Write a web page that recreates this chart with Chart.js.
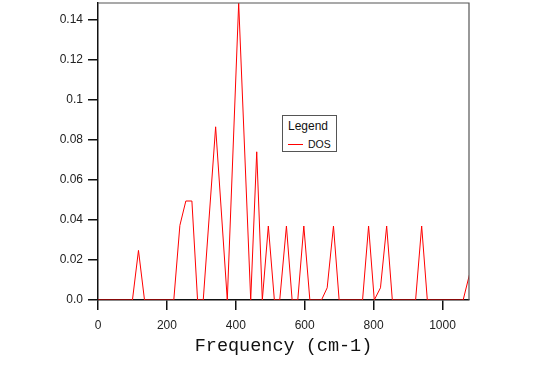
<!DOCTYPE html>
<html>
<head>
<meta charset="utf-8">
<script src="https://cdn.jsdelivr.net/npm/chart.js@4"></script>
<style>
  html, body { margin: 0; padding: 0; background: #fff; }
  #wrap { position: relative; width: 555px; height: 371px; }
  #legend-box {
    position: absolute; left: 282px; top: 115px; width: 53px; height: 35px;
    border: 1px solid #555; background: #fff;
    font-family: "Liberation Sans", Arial, sans-serif; color: #111;
  }
  #legend-box .ttl { position: absolute; left: 5px; top: 3px; font-size: 12px; }
  #legend-box .swatch { position: absolute; left: 5px; top: 28px; width: 15px; height: 0; border-top: 1px solid #ff0000; }
  #legend-box .lbl { position: absolute; left: 25px; top: 22px; font-size: 10.5px; line-height: 12px; }
</style>
</head>
<body>
<div id="wrap">
  <canvas id="dos-chart"></canvas>
  <div id="legend-box">
    <div class="ttl">Legend</div>
    <div class="swatch"></div>
    <div class="lbl">DOS</div>
  </div>
</div>
<script>
const freq = [0, 100, 117.5, 135, 220, 237.7, 255, 272.6, 289, 305.5, 341.5, 375.3, 408.4, 443.3,
  460.8, 477, 494.5, 512, 527.6, 547, 563.5, 580, 597.5, 615, 648.8, 665.3, 683.6, 700, 768,
  785.5, 802, 820, 838, 854.4, 922, 939.6, 956, 1060, 1078];
const dos = [0, 0, 0.0248, 0, 0, 0.0373, 0.0495, 0.0495, 0, 0, 0.0866, 0, 0.1484, 0,
  0.0741, 0, 0.037, 0, 0, 0.037, 0, 0, 0.037, 0, 0, 0.0061, 0.037, 0, 0,
  0.037, 0, 0.0061, 0.037, 0, 0, 0.037, 0, 0, 0.0125];

const xTicks = [0, 200, 400, 600, 800, 1000];
const yTicks = [0, 0.02, 0.04, 0.06, 0.08, 0.1, 0.12, 0.14];

const tickFont = { family: "'Liberation Sans', Arial, sans-serif", size: 12 };

const framePlugin = {
  id: "frame",
  afterDraw(chart) {
    const { ctx, chartArea: a } = chart;
    ctx.save();
    ctx.strokeStyle = "#555";
    ctx.lineWidth = 1.2;
    ctx.beginPath();
    ctx.moveTo(a.left, a.top);
    ctx.lineTo(a.right, a.top);
    ctx.lineTo(a.right, a.bottom);
    ctx.stroke();
    ctx.restore();
  },
};

new Chart(document.getElementById("dos-chart"), {
  type: "line",
  data: {
    datasets: [{
      label: "DOS",
      data: freq.map((f, i) => ({ x: f, y: dos[i] })),
      borderColor: "#ff0000",
      borderWidth: 1,
      pointRadius: 0,
      tension: 0,
    }],
  },
  options: {
    responsive: true,
    maintainAspectRatio: false,
    animation: false,
    layout: { autoPadding: false, padding: { top: 3, right: 86, bottom: 0, left: 0 } },
    plugins: { legend: { display: false }, tooltip: { enabled: false } },
    scales: {
      x: {
        type: "linear",
        min: 0,
        max: 1077,
        z: 1,
        afterBuildTicks: (s) => { s.ticks = xTicks.map((v) => ({ value: v })); },
        afterFit: (s) => { s.height = 71; s.paddingLeft = 0; s.paddingRight = 0; },
        ticks: { font: tickFont, color: "#222", padding: 8, maxRotation: 0, callback: (v) => String(v) },
        grid: { drawOnChartArea: false, tickLength: 10, color: "#111", lineWidth: 1.5 },
        border: { color: "#111", width: 1.5 },
        title: {
          display: true,
          text: "Frequency (cm-1)",
          font: { family: "'Liberation Mono', 'Courier New', monospace", size: 18.5 },
          color: "#111",
          padding: { top: 0, bottom: 14 },
        },
      },
      y: {
        min: 0,
        max: 0.1485,
        z: 1,
        afterBuildTicks: (s) => { s.ticks = yTicks.map((v) => ({ value: v })); },
        afterFit: (s) => { s.width = 98; s.paddingTop = 0; s.paddingBottom = 0; },
        ticks: {
          font: tickFont,
          color: "#222",
          padding: 5,
          callback: (v) => (v === 0 ? "0.0" : String(+v.toFixed(2))),
        },
        grid: { drawOnChartArea: false, tickLength: 10, color: "#111", lineWidth: 1.5 },
        border: { color: "#111", width: 1.5 },
      },
    },
  },
  plugins: [framePlugin],
});
</script>
</body>
</html>
